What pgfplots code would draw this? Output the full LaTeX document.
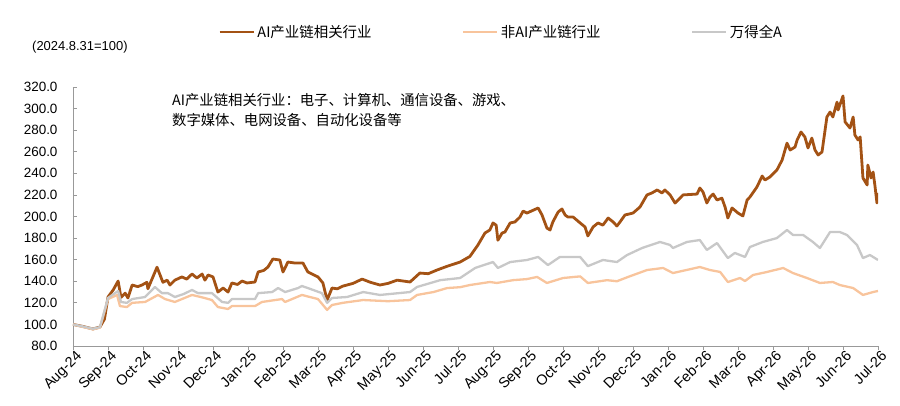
\documentclass[border=0pt]{standalone}
\usepackage{pgfplots}
\pgfplotsset{compat=1.18}
\usepackage{fontspec}
\setmainfont{Liberation Sans}
\newfontfamily\cjk{Noto Sans CJK SC}
\definecolor{aicol}{RGB}{163,82,20}
\definecolor{nonai}{RGB}{248,196,156}
\definecolor{alla}{RGB}{200,200,200}
\begin{document}
\begin{tikzpicture}
\begin{axis}[
  at={(0bp,0bp)}, anchor=south west,
  scale only axis, width=805bp, height=259bp,
  xmin=0, xmax=23, ymin=80, ymax=320,
  axis x line=bottom, axis y line=left,
  axis line style={-, draw=gray!80},
  tick style={draw=gray!80, line width=0.8bp},
  tick align=inside, major tick length=4bp,
  major x tick style={yshift=-4bp},
  xtick={0,1,...,23},
  xticklabels={Aug-24,Sep-24,Oct-24,Nov-24,Dec-24,Jan-25,Feb-25,Mar-25,Apr-25,May-25,Jun-25,Jul-25,Aug-25,Sep-25,Oct-25,Nov-25,Dec-25,Jan-26,Feb-26,Mar-26,Apr-26,May-26,Jun-26,Jul-26},
  xticklabel style={rotate=45, anchor=north east, font=\fontsize{14.5}{15}\selectfont, inner sep=1bp, yshift=-3bp},
  ytick={80,100,...,320},
  yticklabel style={font=\fontsize{13.5}{14}\selectfont, xshift=-12bp},
  /pgf/number format/fixed, /pgf/number format/fixed zerofill, /pgf/number format/precision=1,
  /pgf/number format/assume math mode=true,
  legend columns=3,
  legend cell align=left,
  legend style={at={(0.1801,1.2124)}, anchor=west, draw=none, fill=none, inner sep=0pt,
    font=\cjk\fontsize{14.5}{15}\selectfont,
    nodes={inner xsep=2.5bp, inner ysep=1bp}},
  legend image code/.code={\draw[#1] (0bp,0bp) -- (34bp,0bp);},
]
\addplot[aicol, line width=2.8bp, line join=round] coordinates {
(0,100) (0.3,98) (0.57,95.8) (0.77,97.6) (0.9,105) (1.00,125.4) (1.15,132) (1.29,140.2) (1.37,125) (1.49,129) (1.57,124.5) (1.69,136.5)
(1.85,135) (1.97,136.5) (2.11,139) (2.14,133) (2.40,153) (2.57,139) (2.69,141) (2.77,136.5) (2.91,141) (3.11,144)
(3.25,142) (3.40,146.7) (3.54,143) (3.69,146.7) (3.77,141) (3.86,145.8) (4.00,144) (4.14,130) (4.29,133.7) (4.43,130)
(4.54,138.4) (4.70,137) (4.83,140.2) (4.97,138.4) (5.20,139.3) (5.29,148.6) (5.45,150) (5.57,153.2) (5.71,160.6) (5.91,159.7)
(6.00,148.6) (6.14,157.8) (6.34,156.9) (6.57,156.9) (6.71,148.6) (7.00,144) (7.14,138.4) (7.26,122.5) (7.40,133.7)
(7.55,133) (7.71,135.5) (8.00,138) (8.26,142) (8.50,139) (8.77,136.5) (9.00,138) (9.26,141) (9.63,139.3) (9.91,147.6)
(10.15,147) (10.40,150.4) (10.70,154) (11.06,157.8) (11.34,163) (11.57,173.6) (11.77,184.7) (11.91,187.5) (12.00,194)
(12.09,192) (12.14,178) (12.26,184.7) (12.34,185.6) (12.49,194) (12.63,195) (12.77,199.5) (12.86,205) (12.97,203.2)
(13.29,207.9) (13.40,201.4) (13.54,189.3) (13.63,187.5) (13.71,195) (13.86,204.1) (13.97,207) (14.06,201.4) (14.14,199.5)
(14.29,199.5) (14.49,194) (14.63,190.3) (14.71,182) (14.86,190.3) (15.00,194) (15.14,192) (15.29,198.6) (15.43,195)
(15.54,191.2) (15.63,195) (15.77,201.4) (16.00,203.2) (16.20,208.8) (16.40,220) (16.54,221.8) (16.69,224.6) (16.83,221.8)
(16.91,224.6) (17.06,220) (17.20,212.5) (17.29,215.3) (17.43,220) (17.83,220.8) (17.91,226.4) (18.00,222.7) (18.11,212.5)
(18.20,218) (18.29,220.8) (18.40,215.3) (18.54,217) (18.63,208.8) (18.71,198.6) (18.83,207.9) (19.00,203.2) (19.14,200.5)
(19.26,215.3) (19.34,218) (19.54,227.3) (19.69,237.5) (19.77,233.8) (19.91,236.6) (20.11,243) (20.26,252.3) (20.40,268)
(20.49,261.6) (20.63,264.4) (20.69,270.9) (20.80,278.3) (20.91,273.7) (21.00,263.5) (21.11,272.7) (21.20,261.6) (21.29,257)
(21.40,259.8) (21.54,292.2) (21.63,296.8) (21.71,292.2) (21.83,306) (21.86,298.7) (22.00,311.7) (22.06,287.6) (22.20,282)
(22.29,292.2) (22.34,275.5) (22.43,270.9) (22.49,273.7) (22.57,235.7) (22.69,229.2) (22.71,247.7) (22.80,235.7) (22.86,241.2)
(22.91,229.2) (22.97,212.5) (23.00,221.8)
};
\addlegendentry{AI产业链相关行业\rule{88bp}{0pt}}
\addplot[nonai, line width=2.3bp, line join=round] coordinates {
(0,100) (0.3,97.5) (0.57,95.5) (0.77,97) (1.00,123.5) (1.26,127.3) (1.34,117) (1.54,116.1) (1.69,120) (2.06,120.8)
(2.43,127.3) (2.63,123.5) (2.91,120.8) (3.15,124) (3.40,127.3) (3.70,125) (3.97,122.6) (4.14,116.1) (4.43,114.3) (4.54,117)
(5.20,117) (5.40,120.8) (5.97,123.5) (6.06,120.8) (6.54,127.3) (7.00,123.5) (7.26,113.4) (7.40,118) (7.71,120) (8.29,122.6)
(9.00,121.5) (9.63,122.6) (9.83,127.3) (10.30,130) (10.69,133.7) (11.06,134.5) (11.34,136.5) (11.91,139.3) (12.11,138.4)
(12.57,141) (12.97,142) (13.26,144) (13.54,138.4) (14.00,143) (14.49,144.5) (14.71,138.4) (15.26,141) (15.54,140) (15.86,144)
(16.40,150.4) (16.86,152.3) (17.14,147.6) (17.91,153.2) (18.20,150.4) (18.49,148.6) (18.71,139.3) (19.06,143) (19.20,140.2)
(19.43,145.8) (19.83,148.6) (20.29,152.3) (20.57,147.6) (20.97,143) (21.34,138.4) (21.71,139.3) (21.91,136.5) (22.29,133.7)
(22.57,127.3) (22.86,130) (23.00,131)
};
\addlegendentry{非AI产业链行业\rule{88bp}{0pt}}
\addplot[alla, line width=2.3bp, line join=round] coordinates {
(0,100) (0.3,98) (0.57,96) (0.77,97.5) (1.00,124.5) (1.20,129) (1.29,131) (1.37,120.8) (1.54,120) (1.69,123.5) (2.06,125.4)
(2.34,134.7) (2.54,129) (2.71,129) (2.91,125.4) (3.15,128) (3.40,131.9) (3.57,129) (3.97,129) (4.26,120.8) (4.43,120)
(4.54,123.5) (5.20,123.5) (5.29,129) (5.69,130) (5.86,133.7) (6.06,130) (6.43,133.7) (6.54,135.6) (6.71,133.7) (7.11,129)
(7.26,120) (7.40,124.5) (7.83,125.4) (8.29,130) (8.77,127.3) (9.63,130) (9.83,134.7) (10.49,141) (11.06,143) (11.49,152.3)
(12.00,157.8) (12.14,152.3) (12.49,157.8) (12.97,159.7) (13.29,162.5) (13.57,155) (13.91,162.5) (14.49,162.5) (14.71,154)
(15.14,159.7) (15.54,157.8) (15.83,164.3) (16.26,170.8) (16.77,176.4) (17.06,173.6) (17.14,170.8) (17.54,176.4) (17.91,178.2)
(18.11,169) (18.40,175.4) (18.71,161.5) (18.91,166.2) (19.20,162.5) (19.34,171.7) (19.71,176.4) (20.11,180) (20.40,187.5)
(20.57,182.9) (20.86,182.9) (21.14,176.4) (21.34,170.8) (21.63,185.6) (21.91,185.6) (22.11,182.9) (22.40,173.6) (22.57,161.5)
(22.77,164.3) (23.00,159.7)
};
\addlegendentry{万得全A}
\end{axis}
\node[anchor=west, inner sep=0pt, font=\fontsize{13}{14}\selectfont] at (-41bp,299bp) {(2024.8.31=100)};
\node[anchor=north west, inner sep=0pt, align=left, font=\cjk\fontsize{14.4}{20}\selectfont] at (99bp,253bp)
  {AI产业链相关行业：电子、计算机、通信设备、游戏、\\数字媒体、电网设备、自动化设备等};
\pgfresetboundingbox
\path[use as bounding box] (-73bp,-60bp) rectangle (827bp,346bp);
\end{tikzpicture}
\end{document}
